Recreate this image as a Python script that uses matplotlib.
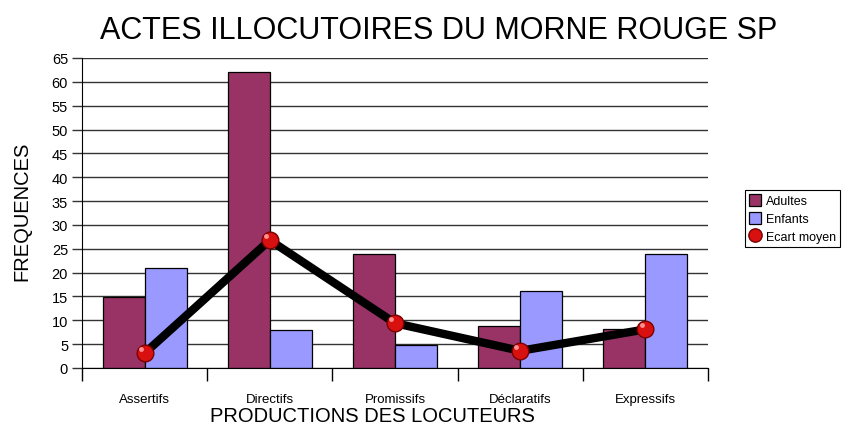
import numpy as np
import matplotlib.pyplot as plt
from matplotlib.ticker import FixedLocator

plt.rcParams['font.family'] = ['Liberation Sans', 'DejaVu Sans']

categories = ['Assertifs', 'Directifs', 'Promissifs', 'Déclaratifs', 'Expressifs']
adultes = [14.8, 62.0, 23.8, 8.9, 8.1]
enfants = [21.0, 8.0, 4.9, 16.1, 23.8]
ecart_moyen = [3.1, 26.8, 9.4, 3.6, 8.1]
yticks = list(range(0, 70, 5))

fig = plt.figure(figsize=(8.48, 4.27), dpi=100)
ax = fig.add_axes([82 / 848, 1 - 369 / 427, 626 / 848, 310 / 427])

x = np.arange(len(categories))
w = 0.335
b1 = ax.bar(x - w / 2, adultes, w, color='#993366', edgecolor='black',
            linewidth=0.9, label='Adultes', zorder=2)
b2 = ax.bar(x + w / 2, enfants, w, color='#9999FF', edgecolor='black',
            linewidth=0.9, label='Enfants', zorder=2)
ax.plot(x, ecart_moyen, color='black', linewidth=6, zorder=3)
pts, = ax.plot(x, ecart_moyen, linestyle='none', marker='o', markersize=12,
               markerfacecolor='#d81010', markeredgecolor='#7a0000',
               markeredgewidth=1, label='Ecart moyen', zorder=4)
# small highlight on the spheres
ax.plot(x - 0.03, np.array(ecart_moyen) + 0.9, linestyle='none', marker='o',
        markersize=3.5, markerfacecolor='#ff9090', markeredgewidth=0,
        zorder=5)

ax.set_xlim(-0.5, len(categories) - 0.5)
ax.set_ylim(0, 65)
ax.set_yticks(yticks)
ax.yaxis.grid(True, color='#333333', linewidth=1)
ax.set_axisbelow(True)
ax.tick_params(axis='y', length=7, width=1, color='#333333',
               labelsize=10.5, pad=3)

# ticks at category boundaries, labels at centres
ax.xaxis.set_major_locator(FixedLocator(np.arange(-0.5, len(categories), 1.0)))
ax.set_xticklabels([])
ax.xaxis.set_minor_locator(FixedLocator(x))
ax.set_xticklabels(categories, minor=True)
ax.tick_params(axis='x', which='major', length=9, width=1, color='black')
ax.tick_params(axis='x', which='minor', length=0, labelsize=9.5, pad=18)

for s in ['top', 'right']:
    ax.spines[s].set_visible(False)
ax.spines['left'].set_color('black')
ax.spines['bottom'].set_color('black')

fig.text(0.517, 1 - 31 / 427, 'ACTES ILLOCUTOIRES DU MORNE ROUGE SP',
         ha='center', va='center', fontsize=22)
fig.text(22 / 848, 1 - 211 / 427, 'FREQUENCES', rotation=90,
         ha='center', va='center', fontsize=14.5)
fig.text(372 / 848, 1 - 417 / 427, 'PRODUCTIONS DES LOCUTEURS',
         ha='center', va='center', fontsize=14.5)

leg = fig.legend(handles=[b1, b2, pts], loc='upper left',
                 bbox_to_anchor=(745 / 848, 1 - 191 / 427),
                 fontsize=9, frameon=True, fancybox=False, edgecolor='black',
                 framealpha=1, handlelength=1.0, handleheight=1.1,
                 handletextpad=0.4, borderpad=0.3, labelspacing=0.4,
                 borderaxespad=0, markerscale=0.8)
leg.get_frame().set_linewidth(0.8)

fig.savefig('out.png', dpi=100)
